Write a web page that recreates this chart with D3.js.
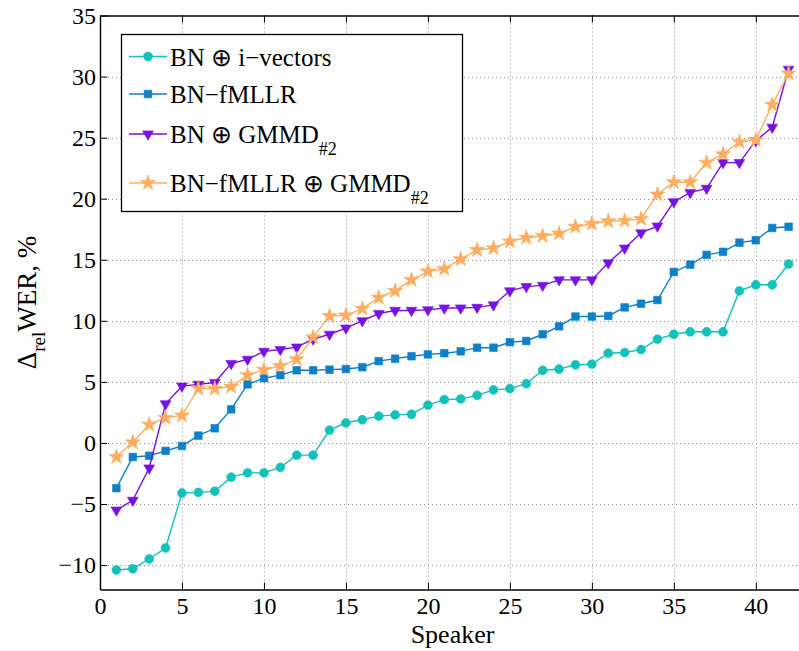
<!DOCTYPE html>
<html>
<head>
<meta charset="utf-8">
<script src="https://cdn.jsdelivr.net/npm/d3@7"></script>
<style>
html,body{margin:0;padding:0;background:#fff;}
svg{display:block;}
</style>
</head>
<body>
<svg id="chart" width="799" height="651" font-family="Liberation Serif"></svg>
<script>
const speakers = d3.range(1, 43);
const ivectors = [-10.4,-10.3,-9.5,-8.6,-4.1,-4.05,-3.95,-2.8,-2.45,-2.45,-2.0,-1.0,-1.0,1.05,1.65,1.9,2.2,2.3,2.35,3.1,3.55,3.6,3.9,4.35,4.45,4.85,5.95,6.05,6.4,6.45,7.35,7.4,7.65,8.5,8.9,9.1,9.1,9.1,12.45,12.95,12.95,14.65];
const fmllr = [-3.7,-1.15,-1.05,-0.65,-0.25,0.6,1.2,2.75,4.8,5.3,5.55,5.95,5.95,6.0,6.05,6.2,6.7,6.9,7.1,7.25,7.35,7.5,7.8,7.8,8.25,8.35,8.9,9.55,10.35,10.35,10.4,11.1,11.4,11.7,14.0,14.6,15.4,15.65,16.4,16.6,17.6,17.7];
const gmmd = [-5.5,-4.7,-2.05,3.2,4.65,4.8,4.95,6.5,6.85,7.5,7.65,7.85,8.5,8.9,9.4,10.0,10.6,10.85,10.85,10.9,11.05,11.05,11.1,11.3,12.45,12.8,12.9,13.35,13.35,13.35,14.75,15.95,17.2,17.75,19.75,20.5,20.85,22.95,22.95,24.75,25.85,30.6];
const fmllrGmmd = [-1.15,0.05,1.5,2.05,2.25,4.45,4.45,4.6,5.55,6.0,6.3,6.85,8.65,10.4,10.45,11.0,11.9,12.45,13.35,14.05,14.25,15.05,15.8,15.95,16.5,16.8,16.95,17.15,17.7,17.95,18.15,18.2,18.35,20.35,21.35,21.35,22.95,23.65,24.65,24.8,27.7,30.25];
const xTicks = [0,5,10,15,20,25,30,35,40];
const yTicks = [-10,-5,0,5,10,15,20,25,30,35];

const seriesNames = ["BN \u2295 i\u2212vectors", "BN\u2212fMLLR", "BN \u2295 GMMD", "BN\u2212fMLLR \u2295 GMMD"];
const seriesSubs = ["", "", "#2", "#2"];
const seriesColors = ["#12c0bc", "#0e80c8", "#7613e4", "#ffac5f"];
const seriesValues = [ivectors, fmllr, gmmd, fmllrGmmd];
const seriesSymbols = [d3.symbolCircle, d3.symbolSquare, d3.symbolTriangle, d3.symbolStar];
const symbolSizes = [62, 58, 50, 72];
const symbolRot = [0, 0, 180, 0];

(function () {
const FONT = "Liberation Serif";
const svg = d3.select("#chart");
const pL = 100, pT = 15.5, pB = 589.5, pR = 805;
const x = d3.scaleLinear().domain([0, 43]).range([pL, pR]);
const y = d3.scaleLinear().domain([-12, 35]).range([pB, pT]);

// grid
const grid = svg.append("g").attr("stroke", "#8c8c8c").attr("stroke-width", 1).attr("stroke-dasharray", "1,3");
xTicks.filter(t => t > 0).forEach(t => {
  grid.append("line").attr("x1", Math.round(x(t)) + 0.5).attr("x2", Math.round(x(t)) + 0.5).attr("y1", pT).attr("y2", pB);
});
yTicks.filter(t => t < 35).forEach(t => {
  grid.append("line").attr("y1", Math.round(y(t)) + 0.5).attr("y2", Math.round(y(t)) + 0.5).attr("x1", pL).attr("x2", pR);
});

// axes
const xAxis = d3.axisBottom(x).tickValues(xTicks).tickSizeInner(-7).tickSizeOuter(0).tickPadding(11);
const gx = svg.append("g").attr("transform", `translate(0,${pB})`).call(xAxis).attr("font-family", FONT);
gx.select(".domain").attr("stroke", "#000").attr("stroke-width", 1.4);
gx.selectAll(".tick line").attr("stroke", "#000");
gx.selectAll("text").attr("font-size", 24).style("font-family", FONT).attr("dy", "0.55em");

const xTop = d3.axisTop(x).tickValues(xTicks).tickSizeInner(-7).tickSizeOuter(0).tickFormat("");
const gt = svg.append("g").attr("transform", `translate(0,${pT})`).call(xTop);
gt.select(".domain").attr("stroke", "#000").attr("stroke-width", 1.4);
gt.selectAll(".tick line").attr("stroke", "#000");

const yAxis = d3.axisLeft(y).tickValues(yTicks).tickSizeInner(-7).tickSizeOuter(0).tickPadding(4)
  .tickFormat(d => d < 0 ? "\u2212" + Math.abs(d) : d);
const gy = svg.append("g").attr("transform", `translate(${pL},0)`).call(yAxis).attr("font-family", FONT);
gy.select(".domain").attr("stroke", "#000").attr("stroke-width", 1.4);
gy.selectAll(".tick line").attr("stroke", "#000");
gy.selectAll("text").attr("font-size", 24).style("font-family", FONT);

// axis titles
svg.append("text").attr("x", (pL + pR) / 2).attr("y", 643).attr("text-anchor", "middle")
  .style("font-family", FONT).attr("font-size", 26).text("Speaker");
const yl = svg.append("text").attr("transform", `translate(36,${(pT + pB) / 2}) rotate(-90)`)
  .attr("text-anchor", "middle").style("font-family", FONT).attr("font-size", 27);
yl.append("tspan").text("\u0394");
yl.append("tspan").attr("font-size", 19).attr("dy", 9).text("rel");
yl.append("tspan").attr("dy", -9).text("WER, %");

// series
const line = d3.line().x((d, i) => x(speakers[i])).y(d => y(d));
seriesValues.forEach((vals, k) => {
  const g = svg.append("g");
  g.append("path").datum(vals).attr("d", line).attr("fill", "none")
    .attr("stroke", seriesColors[k]).attr("stroke-width", 1.4);
  const sym = d3.symbol().type(seriesSymbols[k]).size(symbolSizes[k]);
  g.selectAll("path.m").data(vals).enter().append("path").attr("class", "m")
    .attr("d", sym)
    .attr("transform", (d, i) => `translate(${x(speakers[i])},${y(d)}) rotate(${symbolRot[k]})`)
    .attr("fill", seriesColors[k]).attr("stroke", seriesColors[k]).attr("stroke-width", 0.6);
});

// legend
const lg = svg.append("g");
lg.append("rect").attr("x", 121.5).attr("y", 34.5).attr("width", 341).attr("height", 177)
  .attr("fill", "#fff").attr("stroke", "#000").attr("stroke-width", 1.3);
const rowY = [56.5, 94, 134, 183];
seriesNames.forEach((name, k) => {
  const ry = rowY[k];
  lg.append("line").attr("x1", 129).attr("x2", 167).attr("y1", ry).attr("y2", ry)
    .attr("stroke", seriesColors[k]).attr("stroke-width", 1.4);
  lg.append("path").attr("d", d3.symbol().type(seriesSymbols[k]).size(symbolSizes[k])())
    .attr("transform", `translate(148,${ry}) rotate(${symbolRot[k]})`)
    .attr("fill", seriesColors[k]).attr("stroke", seriesColors[k]).attr("stroke-width", 0.6);
  const t = lg.append("text").attr("x", 170).attr("y", ry + 9).style("font-family", FONT).attr("font-size", 25);
  t.append("tspan").text(name);
  if (seriesSubs[k]) t.append("tspan").attr("font-size", 18).attr("dy", 12).text(seriesSubs[k]);
});
})();
</script>
</body>
</html>
